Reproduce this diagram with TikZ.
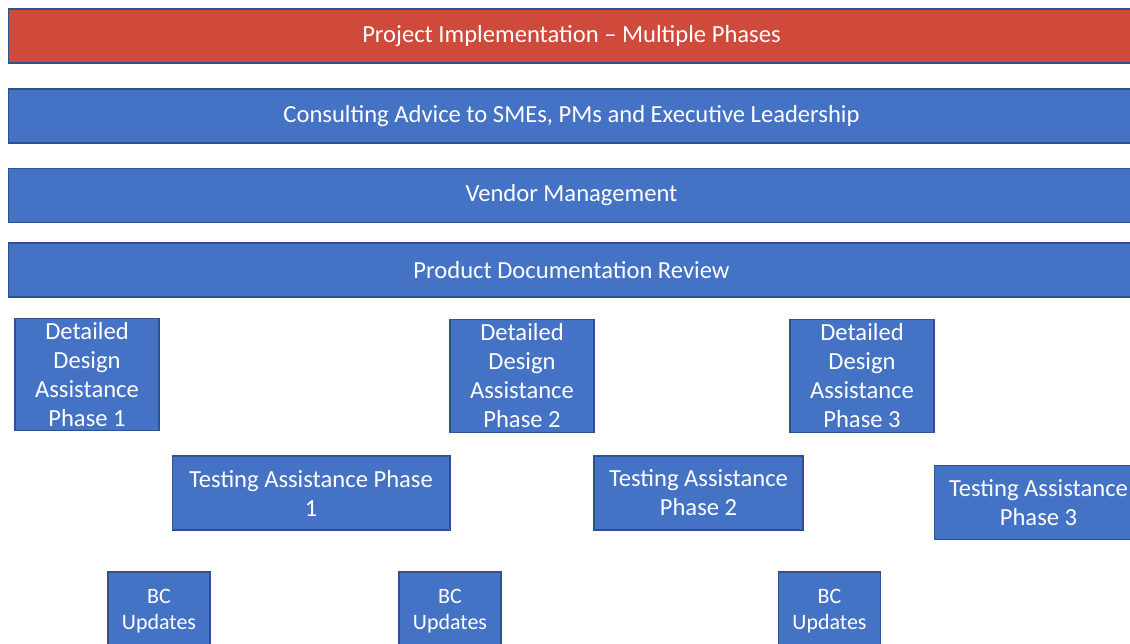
\documentclass[tikz,border=0pt]{standalone}
\usepackage{fontspec}
\setmainfont{Carlito}
\usepackage{tikz}

\definecolor{boxblue}{HTML}{4472C4}
\definecolor{boxred}{HTML}{CF4A3A}
\definecolor{edgeblue}{HTML}{2F528F}

\tikzset{
	box/.style={shape=rectangle, draw=edgeblue, line width=0.6pt, fill=boxblue, text=white, align=center, inner sep=0pt, font=\fontsize{14}{16.5}\selectfont},
	bar/.style={box, minimum width=22.54cm, minimum height=1.08cm},
	design/.style={box, minimum width=2.88cm, minimum height=2.25cm},
	testing/.style={box, minimum height=1.48cm},
	bcbox/.style={box, minimum width=2.04cm, minimum height=1.56cm, font=\fontsize{12.5}{14.9}\selectfont}
}

\begin{document}
\begin{tikzpicture}[x=0.02cm, y=-0.02cm]
	\useasboundingbox (0, 0) rectangle (1130, 643);
	\clip (0, 0) rectangle (1130, 643);

	\node[bar, fill=boxred] (impl) at (571.5, 36)    {Project Implementation – Multiple Phases};
	\node[bar] (consult) at (571.5, 116)              {Consulting Advice to SMEs, PMs and Executive Leadership};
	\node[bar] (vendor)  at (571.5, 195.5)            {Vendor Management};
	\node[bar] (docrev)  at (571.5, 270)              {Product Documentation Review};

	\node[design] (dda) at (87, 374.5)                {Detailed\\Design\\Assistance\\Phase 1};
	\node[design] (ddb) at (522, 376)                 {Detailed\\Design\\Assistance\\Phase 2};
	\node[design] (ddc) at (862, 376)                 {Detailed\\Design\\Assistance\\Phase 3};

	\node[testing, minimum width=5.56cm] (ta) at (311, 493)     {Testing Assistance Phase\\1};
	\node[testing, minimum width=4.18cm] (tb) at (698.5, 493)   {Testing Assistance\\Phase 2};
	\node[testing, minimum width=4.18cm] (tc) at (1038.5, 502.5) {Testing Assistance\\Phase 3};

	\node[bcbox] (bca) at (159, 611)                  {BC\\Updates};
	\node[bcbox] (bcb) at (450, 611)                  {BC\\Updates};
	\node[bcbox] (bcc) at (829.5, 611)                {BC\\Updates};
\end{tikzpicture}
\end{document}
